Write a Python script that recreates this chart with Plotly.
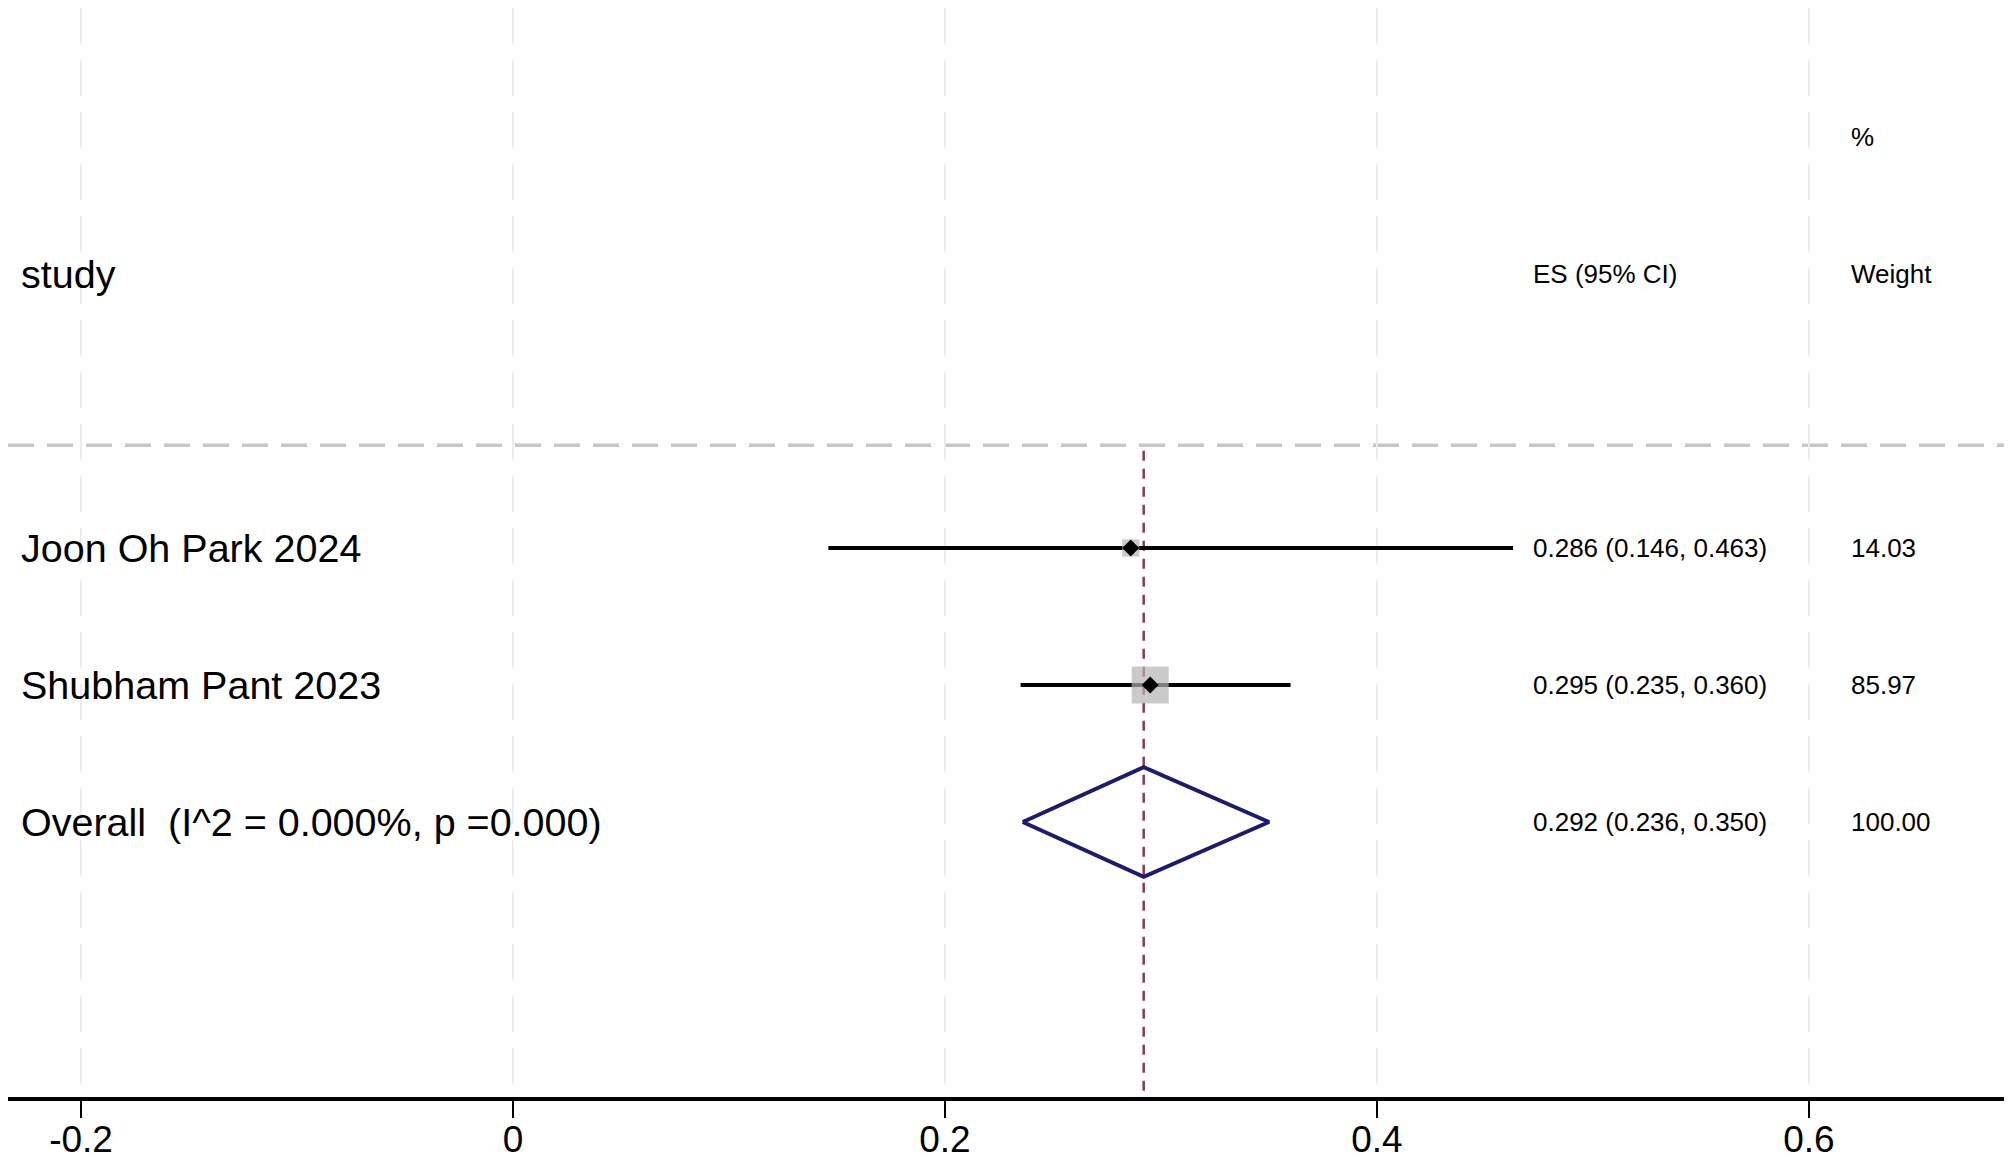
import plotly.graph_objects as go

# ---- data ----
studies = ["Joon Oh Park 2024", "Shubham Pant 2023"]
es = [0.286, 0.295]
ci_lo = [0.146, 0.235]
ci_hi = [0.463, 0.360]
weights = [14.03, 85.97]

overall_label = "Overall  (I^2 = 0.000%, p =0.000)"
overall_es = 0.292
overall_lo = 0.236
overall_hi = 0.350
overall_weight = 100.00

tick_vals = [-0.2, 0, 0.2, 0.4, 0.6]
tick_text = ["-0.2", "0", "0.2", "0.4", "0.6"]

# ---- layout constants (page has an 8px body margin) ----
W, H = 2004, 1152
XR = [-0.2338, 0.6903]
YR = [5.0073, -2.9416]
rows = [1, 2]
overall_row = 3
X_LABEL = -0.2287
X_ES = 0.4713
X_WT = 0.6185
FONT = "Liberation Sans, Arial, sans-serif"

fig = go.Figure()

# reference (overall) dashed line
fig.add_trace(go.Scatter(x=[overall_es, overall_es], y=[0.29, YR[0]], mode="lines",
                         line=dict(color="#8b3a4a", width=2.5, dash="10px,8px"),
                         hoverinfo="skip", showlegend=False))

# CI lines
for y, lo, hi in zip(rows, ci_lo, ci_hi):
    fig.add_trace(go.Scatter(x=[lo, hi], y=[y, y], mode="lines",
                             line=dict(color="black", width=4),
                             hoverinfo="skip", showlegend=False))

# weight squares
wmax = max(weights)
sizes = [37 * (w / wmax) ** 0.42 for w in weights]
fig.add_trace(go.Scatter(x=es, y=rows, mode="markers",
                         marker=dict(symbol="square", size=sizes, color="#b4b4b4",
                                     line=dict(width=0)),
                         hoverinfo="skip", showlegend=False))
# point estimates
fig.add_trace(go.Scatter(x=es, y=rows, mode="markers",
                         marker=dict(symbol="diamond", size=13, color="black",
                                     line=dict(width=0)),
                         hoverinfo="skip", showlegend=False))

# overall diamond
fig.add_trace(go.Scatter(x=[overall_lo, overall_es, overall_hi, overall_es, overall_lo],
                         y=[overall_row, overall_row - 0.4, overall_row, overall_row + 0.4, overall_row],
                         mode="lines", line=dict(color="#1c1c6e", width=4),
                         hoverinfo="skip", showlegend=False))

# separator
fig.add_shape(type="line", xref="paper", x0=0, x1=1, yref="y", y0=0.25, y1=0.25,
              line=dict(color="#c6c6c6", width=3.5, dash="26px,13px"), layer="below")

ann = []
def txt(x, y, s, size, anchor="left"):
    ann.append(dict(x=x, y=y, xref="x", yref="y", text=s, showarrow=False,
                    xanchor=anchor, yanchor="middle",
                    font=dict(family=FONT, size=size, color="black")))

txt(X_LABEL, -1, "study", 39.5)
txt(X_ES, -1, "ES (95% CI)", 26)
txt(X_WT, -1, "Weight", 26)
txt(X_WT, -2, "%", 26)
for y, s, e, lo, hi, w in zip(rows, studies, es, ci_lo, ci_hi, weights):
    txt(X_LABEL, y, s, 39.5)
    txt(X_ES, y, f"{e:.3f} ({lo:.3f}, {hi:.3f})", 26)
    txt(X_WT, y, f"{w:.2f}", 26)
txt(X_LABEL, overall_row, overall_label, 39.5)
txt(X_ES, overall_row, f"{overall_es:.3f} ({overall_lo:.3f}, {overall_hi:.3f})", 26)
txt(X_WT, overall_row, f"{overall_weight:.2f}", 26)

fig.update_layout(
    width=W, height=H,
    margin=dict(l=0, r=8, t=0, b=63, autoexpand=False),
    paper_bgcolor="white", plot_bgcolor="white",
    annotations=ann,
    xaxis=dict(range=XR, tickmode="array", tickvals=tick_vals, ticktext=tick_text,
               automargin=False,
               showgrid=True, gridcolor="#ececec", gridwidth=2, griddash="36px,16px",
               zeroline=False, showline=True, linecolor="black", linewidth=3.5,
               ticks="outside", ticklen=17, tickwidth=2, tickcolor="black",
               ticklabelstandoff=-10,
               tickfont=dict(family=FONT, size=37, color="black")),
    yaxis=dict(range=YR, visible=False, showgrid=False, zeroline=False, automargin=False),
)

fig.write_html("out.html")
